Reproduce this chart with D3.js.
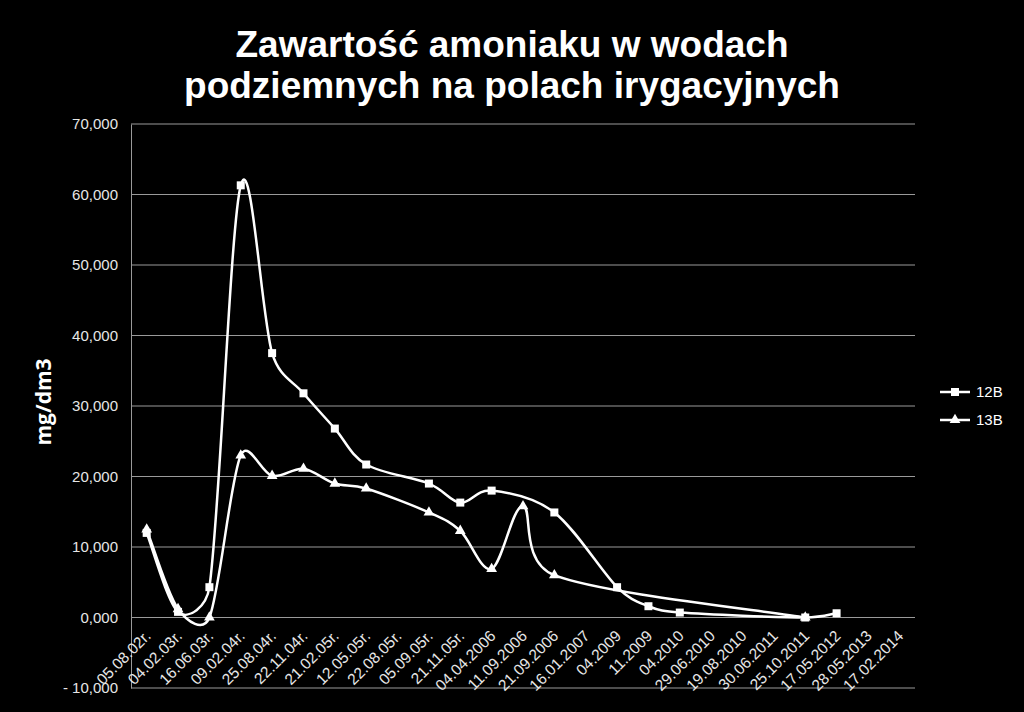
<!DOCTYPE html>
<html>
<head>
<meta charset="utf-8">
<script src="https://cdn.jsdelivr.net/npm/d3@7"></script>
<style>
  html, body { margin: 0; padding: 0; background: #000; }
  svg { display: block; }
</style>
</head>
<body>
<div id="chart"></div>
<script>
const categories = ['05.08.02r.', '04.02.03r.', '16.06.03r.', '09.02.04r.', '25.08.04r.', '22.11.04r.',
  '21.02.05r.', '12.05.05r.', '22.08.05r.', '05.09.05r.', '21.11.05r.', '04.04.2006', '11.09.2006',
  '21.09.2006', '16.01.2007', '04.2009', '11.2009', '04.2010', '29.06.2010', '19.08.2010',
  '30.06.2011', '25.10.2011', '17.05.2012', '28.05.2013', '17.02.2014'];

const values12B = [12.0, 0.8, 4.3, 61.3, 37.5, 31.8, 26.8, 21.7, null, 19.0, 16.3, 18.0, null,
  14.9, null, 4.3, 1.6, 0.7, null, null, null, 0.0, 0.6, null, null];

const values13B = [12.5, 1.2, 0.0, 23.0, 20.1, 21.1, 19.0, 18.3, null, 14.9, 12.3, 6.9, 15.8,
  6.0, null, null, null, null, null, null, null, 0.0, null, null, null];

const seriesNames = ['12B', '13B'];
const yTicks = [-10, 0, 10, 20, 30, 40, 50, 60, 70];
const yTickLabels = ['- 10,000', '0,000', '10,000', '20,000', '30,000', '40,000', '50,000', '60,000', '70,000'];
const titleLines = ['Zawartość amoniaku w wodach', 'podziemnych na polach irygacyjnych'];
const yTitle = 'mg/dm3';

const w = 1024;
const h = 712;
const plot = { left: 131, right: 915, top: 124, bottom: 688 };

const svg = d3.select('#chart').append('svg')
  .attr('width', w)
  .attr('height', h)
  .style('background', '#000');

const xScale = d3.scalePoint()
  .domain(categories)
  .range([plot.left, plot.right])
  .padding(0.5);

const yScale = d3.scaleLinear()
  .domain([-10, 70])
  .range([plot.bottom, plot.top]);

// title
svg.append('g')
  .selectAll('text')
  .data(titleLines)
  .enter()
  .append('text')
  .attr('x', 512)
  .attr('y', (d, i) => 57 + i * 41)
  .attr('text-anchor', 'middle')
  .attr('fill', '#fff')
  .style('font-family', '"Liberation Sans", Arial, sans-serif')
  .style('font-weight', 'bold')
  .style('font-size', '37px')
  .text(d => d);

// gridlines
svg.append('g')
  .selectAll('line')
  .data(yTicks)
  .enter()
  .append('line')
  .attr('x1', plot.left)
  .attr('x2', plot.right)
  .attr('y1', d => yScale(d))
  .attr('y2', d => yScale(d))
  .attr('stroke', '#9a9a9a')
  .attr('stroke-width', 1);

// Y-AXIS
const yAxis = d3.axisLeft(yScale)
  .tickValues(yTicks)
  .tickSize(0)
  .tickPadding(13)
  .tickFormat((d, i) => yTickLabels[i]);

const gy = svg.append('g')
  .attr('transform', 'translate(' + plot.left + ', 0)')
  .call(yAxis);
gy.select('.domain').attr('stroke', '#9a9a9a');
gy.selectAll('text')
  .attr('fill', '#e6e6e6')
  .style('font-family', '"Liberation Sans", Arial, sans-serif')
  .style('font-size', '15px');

// X-AXIS labels, rotated
svg.append('g')
  .selectAll('text')
  .data(categories)
  .enter()
  .append('text')
  .attr('transform', d => 'translate(' + (xScale(d) + 5) + ',' + 637 + ') rotate(-45)')
  .attr('text-anchor', 'end')
  .attr('fill', '#e6e6e6')
  .style('font-family', '"Liberation Sans", Arial, sans-serif')
  .style('font-size', '15.5px')
  .text(d => d);

// y title
svg.append('text')
  .attr('transform', 'translate(51, 402) rotate(-90)')
  .attr('text-anchor', 'middle')
  .attr('fill', '#fff')
  .style('font-family', '"Open Sans", sans-serif')
  .style('font-weight', 'bold')
  .style('font-size', '21px')
  .text(yTitle);

// Excel style smoothed line: bezier, control arm capped at half the segment
function smoothPath(pts) {
  const p = d3.path();
  const dist = (a, b) => Math.hypot(b[0] - a[0], b[1] - a[1]);
  p.moveTo(pts[0][0], pts[0][1]);
  for (let i = 0; i < pts.length - 1; i++) {
    const p0 = pts[Math.max(i - 1, 0)];
    const p1 = pts[i];
    const p2 = pts[i + 1];
    const p3 = pts[Math.min(i + 2, pts.length - 1)];
    const d12 = dist(p1, p2);
    const d02 = dist(p0, p2);
    const d13 = dist(p1, p3);
    const f = (d02 / 6 < d12 / 2) ? 1 / 6 : d12 / d02 / 2;
    const g = (d13 / 6 < d12 / 2) ? 1 / 6 : d12 / d13 / 2;
    p.bezierCurveTo(
      p1[0] + (p2[0] - p0[0]) * f, p1[1] + (p2[1] - p0[1]) * f,
      p2[0] - (p3[0] - p1[0]) * g, p2[1] - (p3[1] - p1[1]) * g,
      p2[0], p2[1]);
  }
  return p.toString();
}

const series = [values12B, values13B].map((vals, i) => ({
  name: seriesNames[i],
  points: vals.map((v, j) => ({ cat: categories[j], v: v })).filter(p => p.v !== null)
}));

series.forEach(s => {
  svg.append('path')
    .attr('d', smoothPath(s.points.map(d => [xScale(d.cat), yScale(d.v)])))
    .attr('fill', 'none')
    .attr('stroke', '#fff')
    .attr('stroke-width', 2.5);
});

const square = d3.symbol().type(d3.symbolSquare).size(64);
const triangle = d3.symbol().type(d3.symbolTriangle).size(50);

series.forEach((s, i) => {
  svg.append('g')
    .selectAll('path')
    .data(s.points)
    .enter()
    .append('path')
    .attr('transform', d => 'translate(' + xScale(d.cat) + ',' + yScale(d.v) + ')')
    .attr('d', i === 0 ? square : triangle)
    .attr('fill', '#fff');
});

// legend
const legend = svg.append('g')
  .selectAll('g')
  .data(seriesNames)
  .enter()
  .append('g')
  .attr('transform', (d, i) => 'translate(940,' + (392 + i * 28) + ')');

legend.append('line')
  .attr('x1', 0)
  .attr('x2', 30)
  .attr('stroke', '#fff')
  .attr('stroke-width', 2.5);

legend.append('path')
  .attr('transform', 'translate(15,0)')
  .attr('d', (d, i) => i === 0 ? square() : triangle())
  .attr('fill', '#fff');

legend.append('text')
  .attr('x', 36)
  .attr('y', 5)
  .attr('fill', '#fff')
  .style('font-family', '"Liberation Sans", Arial, sans-serif')
  .style('font-size', '15px')
  .text(d => d);
</script>
</body>
</html>
